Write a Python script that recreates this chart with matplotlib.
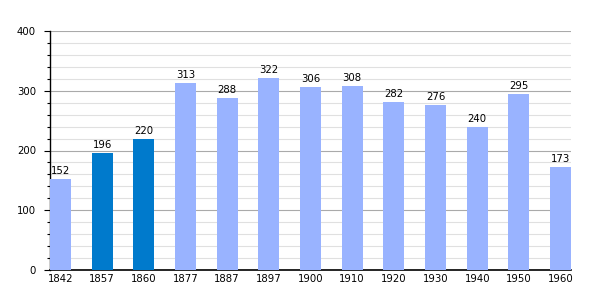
import numpy as np
import matplotlib
matplotlib.use('Agg')
import matplotlib.pyplot as plt
from matplotlib.ticker import MultipleLocator

years = ['1842', '1857', '1860', '1877', '1887', '1897', '1900',
         '1910', '1920', '1930', '1940', '1950', '1960']
population = [152, 196, 220, 313, 288, 322, 306, 308, 282, 276, 240, 295, 173]
highlight = ['1857', '1860']

light = '#99b3ff'
dark = '#007acc'

fig = plt.figure(figsize=(6, 3), dpi=100)
ax = fig.add_axes([50 / 600, 30 / 300, 521 / 600, 239 / 300])

x = np.arange(len(years))
colors = [dark if y in highlight else light for y in years]
ax.bar(x, population, width=0.5, color=colors, zorder=3)

for xi, v in zip(x, population):
    ax.text(xi, v + 5, str(v), ha='center', va='bottom', fontsize=7.3, color='black')

ax.set_xlim(-0.25, len(years) - 0.75)
ax.set_ylim(0, 400)
ax.set_xticks(x)
ax.set_xticklabels(years, fontsize=7.3)
ax.tick_params(axis='x', length=0, pad=3)
ax.yaxis.set_major_locator(MultipleLocator(100))
ax.yaxis.set_minor_locator(MultipleLocator(20))
ax.tick_params(axis='y', which='major', length=4, width=0.8, labelsize=7.3, pad=6)
ax.tick_params(axis='y', which='minor', length=2.5, width=0.8)
ax.grid(axis='y', which='minor', color='#e0e0e0', linewidth=0.8, zorder=0)
ax.grid(axis='y', which='major', color='#aaaaaa', linewidth=0.8, zorder=1)

ax.spines['top'].set_visible(False)
ax.spines['right'].set_visible(False)
ax.spines['left'].set_linewidth(1)
ax.spines['bottom'].set_linewidth(1.2)

fig.savefig('out.png', dpi=100)
